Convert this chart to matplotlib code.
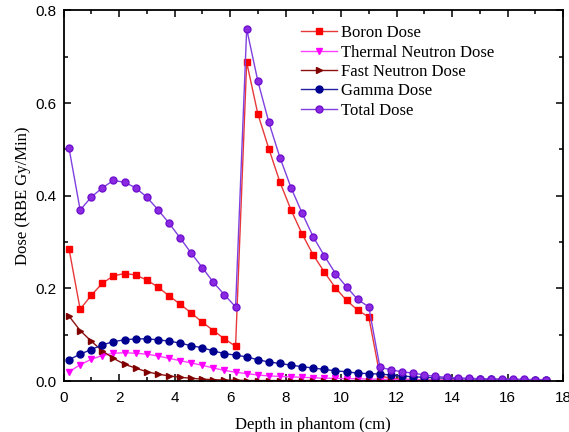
# Dose vs depth in phantom
import matplotlib.pyplot as plt
from matplotlib.ticker import MultipleLocator

# Data, depth points every 0.4 cm
depth = [round(0.2 + 0.4 * i, 1) for i in range(44)]

boron = [0.285, 0.155, 0.185, 0.211, 0.227, 0.232, 0.229, 0.218, 0.203, 0.184,
         0.166, 0.147, 0.127, 0.109, 0.091, 0.075, 0.688, 0.577, 0.501, 0.429,
         0.369, 0.317, 0.272, 0.235, 0.201, 0.174, 0.153, 0.138, 0.012, 0.005,
         0.004, 0.003, 0.003, 0.002, 0.002, 0.002, 0.001, 0.001, 0.001, 0.001,
         0.001, 0.001, 0.001, 0.001]
thermal = [0.020, 0.035, 0.047, 0.055, 0.060, 0.061, 0.060, 0.058, 0.054, 0.049,
           0.044, 0.039, 0.034, 0.028, 0.023, 0.019, 0.016, 0.013, 0.011, 0.010,
           0.009, 0.008, 0.007, 0.006, 0.006, 0.005, 0.005, 0.004, 0.004, 0.003,
           0.003, 0.003, 0.002, 0.002, 0.002, 0.002, 0.001, 0.001, 0.001, 0.001,
           0.001, 0.001, 0.001, 0.001]
fast = [0.140, 0.109, 0.086, 0.065, 0.049, 0.036, 0.028, 0.020, 0.015, 0.011,
        0.008, 0.006, 0.004, 0.003, 0.002, 0.002, 0.001, 0.001, 0.001, 0.001,
        0.001, 0.001, 0.001, 0.0, 0.0, 0.0, 0.0, 0.0, 0.0, 0.0,
        0.0, 0.0, 0.0, 0.0, 0.0, 0.0, 0.0, 0.0, 0.0, 0.0,
        0.0, 0.0, 0.0, 0.0]
gamma = [0.046, 0.058, 0.068, 0.078, 0.085, 0.089, 0.091, 0.091, 0.089, 0.086,
         0.082, 0.076, 0.072, 0.065, 0.059, 0.056, 0.052, 0.046, 0.041, 0.038,
         0.034, 0.031, 0.028, 0.025, 0.022, 0.020, 0.017, 0.016, 0.015, 0.013,
         0.011, 0.009, 0.008, 0.007, 0.006, 0.005, 0.005, 0.004, 0.004, 0.003,
         0.003, 0.003, 0.002, 0.002]
total = [0.502, 0.369, 0.397, 0.417, 0.433, 0.429, 0.417, 0.397, 0.370, 0.341,
         0.309, 0.276, 0.245, 0.213, 0.186, 0.160, 0.760, 0.648, 0.558, 0.482,
         0.417, 0.362, 0.311, 0.270, 0.232, 0.203, 0.176, 0.160, 0.030, 0.024,
         0.020, 0.017, 0.013, 0.010, 0.008, 0.0065, 0.006, 0.005, 0.0045, 0.004,
         0.004, 0.0035, 0.003, 0.003]

fig = plt.figure(figsize=(5.69, 4.32), dpi=100)
ax = fig.add_axes([0.1116, 0.118, 0.878, 0.858])

ax.plot(depth, boron, color="#e8383a", marker="s", mfc="#ff0000", mec="#ff0000",
        ms=4.5, lw=1, label="Boron Dose")
ax.plot(depth, thermal, color="#ff40ff", marker="v", mfc="#ff00ff", mec="#ff00ff",
        ms=5, lw=1, label="Thermal Neutron Dose")
ax.plot(depth, fast, color="#8b1010", marker=">", mfc="#800000", mec="#800000",
        ms=5, lw=1, label="Fast Neutron Dose")
ax.plot(depth, gamma, color="#2020a0", marker="o", mfc="#000090", mec="#000090",
        ms=5, lw=1, label="Gamma Dose")
ax.plot(depth, total, color="#8040e0", marker="o", mfc="#8a2be2", mec="#7010d0",
        ms=5, lw=1, label="Total Dose")

ax.set_xlim(0, 18)
ax.set_ylim(0, 0.8)
ax.xaxis.set_major_locator(MultipleLocator(2))
ax.xaxis.set_minor_locator(MultipleLocator(1))
ax.yaxis.set_major_locator(MultipleLocator(0.2))
ax.yaxis.set_minor_locator(MultipleLocator(0.1))
ax.yaxis.set_major_formatter(plt.FormatStrFormatter("%.1f"))

ax.tick_params(which="both", direction="in", top=True, right=True, width=1.1)
ax.tick_params(which="major", length=5, labelsize=11)
ax.tick_params(which="minor", length=3)
ax.tick_params(axis="x", which="major", pad=7.5)
ax.tick_params(axis="y", which="major", pad=5)
for lab in ax.get_xticklabels() + ax.get_yticklabels():
    lab.set_fontfamily("Liberation Sans")
for sp in ax.spines.values():
    sp.set_linewidth(1.3)

ax.set_xlabel("Depth in phantom (cm)", fontfamily="Liberation Serif", fontsize=12,
              labelpad=8)
ax.set_ylabel("Dose (RBE Gy/Min)", fontfamily="Liberation Serif", fontsize=12,
              labelpad=3)

ax.legend(loc="upper left", bbox_to_anchor=(0.475, 0.96), frameon=False,
          borderaxespad=0, borderpad=0, handlelength=2.2, handletextpad=0.2,
          labelspacing=0.2, prop={"family": "Liberation Serif", "size": 12})

fig.savefig("out.png", dpi=100)
